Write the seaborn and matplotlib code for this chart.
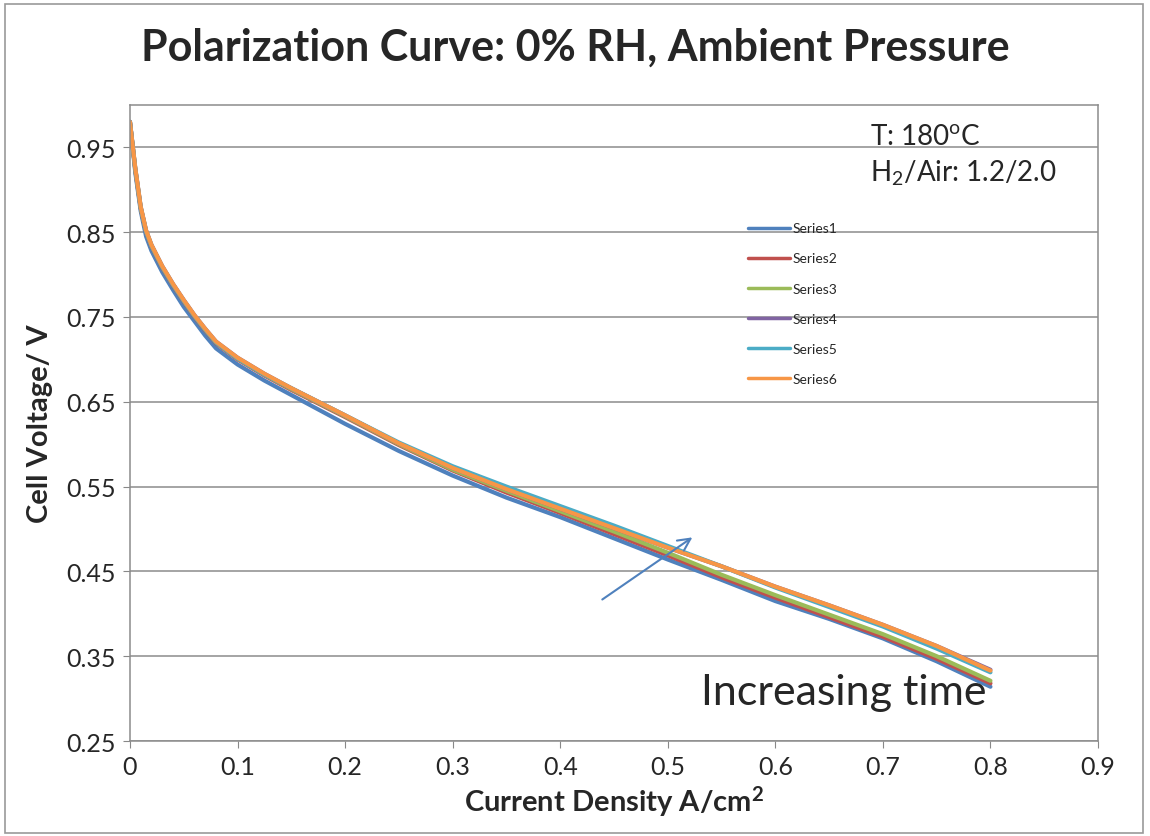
import numpy as np
import pandas as pd
import matplotlib
matplotlib.use("Agg")
import matplotlib.pyplot as plt
import matplotlib.patches as mpatches
import seaborn as sns

# current density (A/cm2) and cell voltage (V)
current = [0.0, 0.005, 0.01, 0.015, 0.02, 0.03, 0.04, 0.05, 0.06, 0.07, 0.08,
           0.1, 0.125, 0.15, 0.175, 0.2, 0.25, 0.3, 0.35, 0.4, 0.45, 0.5, 0.55,
           0.6, 0.65, 0.7, 0.75, 0.8]
series1 = [0.980, 0.920, 0.875, 0.845, 0.828, 0.803, 0.782, 0.762, 0.745, 0.728, 0.713,
           0.694, 0.675, 0.658, 0.641, 0.624, 0.592, 0.563, 0.537, 0.514, 0.489, 0.464, 0.440,
           0.415, 0.394, 0.371, 0.344, 0.314]
series2 = [0.980, 0.923, 0.878, 0.850, 0.833, 0.808, 0.787, 0.768, 0.750, 0.734, 0.719,
           0.700, 0.681, 0.664, 0.648, 0.632, 0.599, 0.569, 0.543, 0.519, 0.494, 0.469, 0.443,
           0.419, 0.396, 0.373, 0.347, 0.318]
series3 = [0.980, 0.924, 0.879, 0.851, 0.834, 0.809, 0.788, 0.769, 0.751, 0.735, 0.720,
           0.701, 0.682, 0.665, 0.649, 0.633, 0.600, 0.570, 0.545, 0.521, 0.497, 0.472, 0.446,
           0.422, 0.399, 0.376, 0.350, 0.321]
series4 = [0.980, 0.925, 0.880, 0.852, 0.835, 0.810, 0.789, 0.770, 0.752, 0.736, 0.721,
           0.702, 0.683, 0.666, 0.650, 0.634, 0.601, 0.572, 0.547, 0.524, 0.501, 0.478, 0.456,
           0.432, 0.410, 0.387, 0.362, 0.334]
series5 = [0.980, 0.924, 0.879, 0.851, 0.834, 0.809, 0.788, 0.769, 0.751, 0.735, 0.720,
           0.701, 0.682, 0.666, 0.650, 0.634, 0.602, 0.574, 0.550, 0.527, 0.504, 0.480, 0.456,
           0.431, 0.408, 0.385, 0.359, 0.331]
series6 = [0.980, 0.925, 0.880, 0.852, 0.835, 0.810, 0.789, 0.770, 0.752, 0.736, 0.721,
           0.702, 0.683, 0.666, 0.650, 0.634, 0.601, 0.572, 0.547, 0.524, 0.501, 0.478, 0.456,
           0.432, 0.410, 0.387, 0.362, 0.333]

series_names = ["Series1", "Series2", "Series3", "Series4", "Series5", "Series6"]
colours = ["#4F81BD", "#C0504D", "#9BBB59", "#8064A2", "#4BACC6", "#F79646"]
x_ticks = [0, 0.1, 0.2, 0.3, 0.4, 0.5, 0.6, 0.7, 0.8, 0.9]
y_ticks = [0.25, 0.35, 0.45, 0.55, 0.65, 0.75, 0.85, 0.95]

frames = []
for name, vals in zip(series_names,
                      [series1, series2, series3, series4, series5, series6]):
    frames.append(pd.DataFrame({"current": current, "voltage": vals, "series": name}))
df = pd.concat(frames, ignore_index=True)

sns.set_style("white")
FONT = "Lato"
plt.rcParams["font.family"] = [FONT, "DejaVu Sans"]
plt.rcParams["mathtext.fontset"] = "custom"
plt.rcParams["mathtext.rm"] = FONT
plt.rcParams["mathtext.it"] = FONT
plt.rcParams["mathtext.bf"] = FONT + ":bold"

fig = plt.figure(figsize=(11.5, 8.37), dpi=100)
ax = fig.add_axes([0.113, 0.1135, 0.8418, 0.7599])

sns.lineplot(data=df, x="current", y="voltage", hue="series",
             palette=dict(zip(series_names, colours)), hue_order=series_names,
             linewidth=3, ax=ax, sort=False)

ax.set_xlim(0, 0.9)
ax.set_ylim(0.25, 1.0)
ax.set_xticks(x_ticks)
ax.set_xticklabels(["0"] + [f"{t:.1f}" for t in x_ticks[1:]])
ax.set_yticks(y_ticks)
ax.set_yticklabels([f"{t:.2f}" for t in y_ticks])
ax.tick_params(axis="both", labelsize=18, length=5, color="#888888",
               direction="out", bottom=True, left=True, pad=5)
ax.yaxis.grid(True, color="#8c8c8c", linewidth=1.1)
ax.xaxis.grid(False)
for side in ["left", "bottom", "top", "right"]:
    ax.spines[side].set_color("#8c8c8c")
    ax.spines[side].set_linewidth(1.1)

ax.set_xlabel("Current Density A/cm$^{\\mathbf{2}}$", fontsize=21,
              fontweight="bold", labelpad=4)
ax.set_ylabel("Cell Voltage/ V", fontsize=21, fontweight="bold", labelpad=10)

fig.text(0.5, 0.943, "Polarization Curve: 0% RH, Ambient Pressure",
         ha="center", va="center", fontsize=31, fontweight="bold")

leg = ax.legend(loc="upper left", bbox_to_anchor=(0.626, 0.835), frameon=False,
                fontsize=10, handlelength=3.0, labelspacing=1.3,
                handletextpad=0.2)
for line in leg.get_lines():
    line.set_linewidth(2.5)

ax.text(0.688, 0.963, "T: 180$^{\\mathrm{o}}$C", fontsize=20, va="center")
ax.text(0.688, 0.921, "H$_{2}$/Air: 1.2/2.0", fontsize=20, va="center")

ax.annotate("", xy=(0.525, 0.492), xytext=(0.437, 0.415),
            arrowprops=dict(arrowstyle="->", color="#4F81BD", lw=1.5,
                            mutation_scale=22))
ax.text(0.531, 0.308, "Increasing time", fontsize=31, va="center", ha="left")

fig.patches.append(mpatches.Rectangle((0.004, 0.004), 0.99, 0.99,
                                      transform=fig.transFigure, fill=False,
                                      edgecolor="#999999", linewidth=1.2))

fig.savefig("out.png", dpi=100)
